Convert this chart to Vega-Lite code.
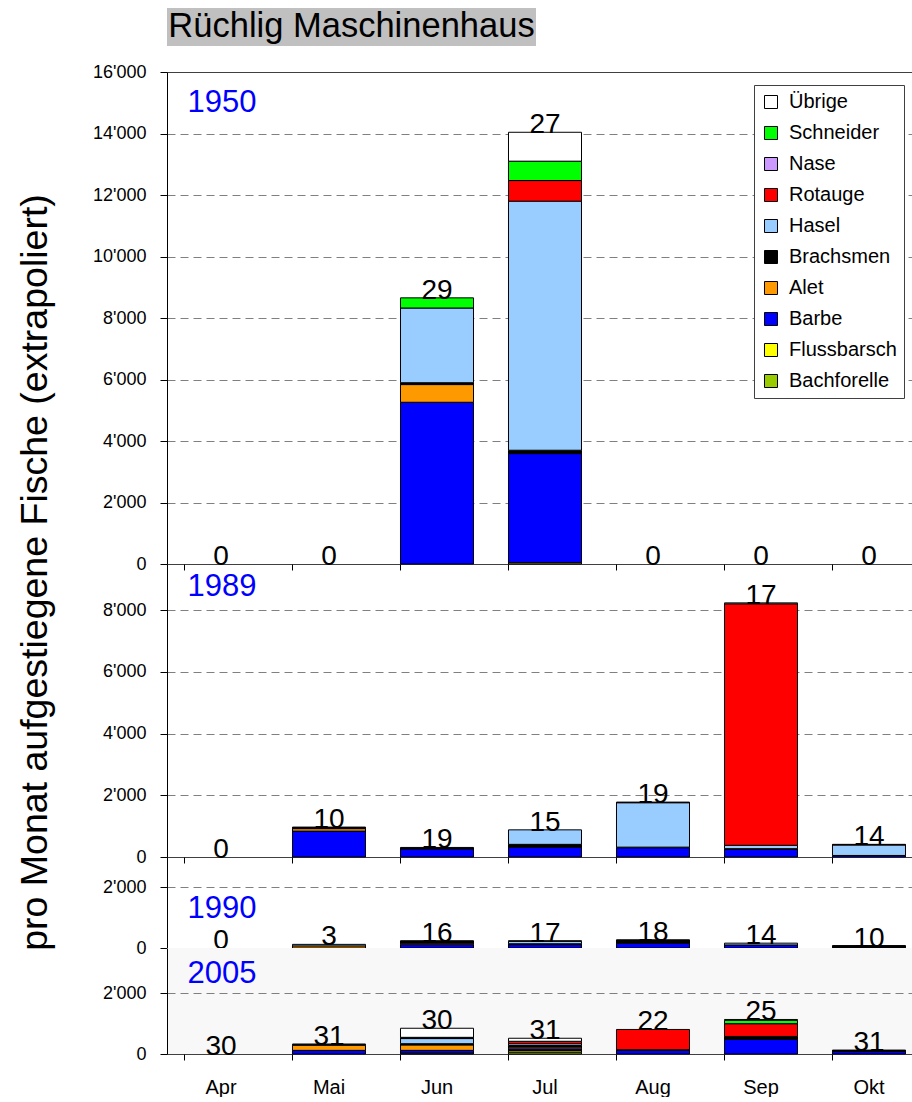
{
  "$schema": "https://vega.github.io/schema/vega-lite/v6.json",
  "padding": {"left": 15, "top": 8, "right": 0, "bottom": 0},
  "background": "white",
  "config": {
    "font": "Liberation Sans",
    "view": {"stroke": null},
    "locale": {"number": {"decimal": ".", "thousands": "'", "grouping": [3], "currency": ["", ""]}},
    "axis": {"titleFontWeight": "normal", "labelColor": "black", "titleColor": "black"}
  },
  "datasets": {
    "titel": [{"titel": "Rüchlig Maschinenhaus"}],
    "jahre": [{"jahr": "1950"}, {"jahr": "1989"}, {"jahr": "1990"}, {"jahr": "2005"}],
    "monate": [
      {"jahr": "1950", "monat": "Apr", "tage": 0, "Barbe": 0},
      {"jahr": "1950", "monat": "Mai", "tage": 0, "Barbe": 0},
      {"jahr": "1950", "monat": "Jun", "tage": 29, "Barbe": 5260, "Alet": 575, "Brachsmen": 60, "Hasel": 2430, "Schneider": 330},
      {"jahr": "1950", "monat": "Jul", "tage": 27, "Flussbarsch": 40, "Barbe": 3550, "Brachsmen": 110, "Hasel": 8100, "Rotauge": 670, "Schneider": 630, "Übrige": 940},
      {"jahr": "1950", "monat": "Aug", "tage": 0, "Barbe": 0},
      {"jahr": "1950", "monat": "Sep", "tage": 0, "Barbe": 0},
      {"jahr": "1950", "monat": "Okt", "tage": 0, "Barbe": 0},
      {"jahr": "1989", "monat": "Apr", "tage": 0, "Barbe": 0},
      {"jahr": "1989", "monat": "Mai", "tage": 10, "Barbe": 840, "Alet": 80, "Brachsmen": 50},
      {"jahr": "1989", "monat": "Jun", "tage": 19, "Barbe": 260, "Brachsmen": 50},
      {"jahr": "1989", "monat": "Jul", "tage": 15, "Barbe": 320, "Brachsmen": 90, "Hasel": 470},
      {"jahr": "1989", "monat": "Aug", "tage": 19, "Barbe": 300, "Brachsmen": 20, "Hasel": 1440, "Rotauge": 20},
      {"jahr": "1989", "monat": "Sep", "tage": 17, "Barbe": 250, "Brachsmen": 20, "Hasel": 110, "Rotauge": 7830, "Übrige": 30},
      {"jahr": "1989", "monat": "Okt", "tage": 14, "Barbe": 50, "Hasel": 340, "Rotauge": 20},
      {"jahr": "1990", "monat": "Apr", "tage": 0, "Barbe": 0},
      {"jahr": "1990", "monat": "Mai", "tage": 3, "Alet": 70, "Hasel": 50},
      {"jahr": "1990", "monat": "Jun", "tage": 16, "Barbe": 110, "Alet": 50, "Brachsmen": 80},
      {"jahr": "1990", "monat": "Jul", "tage": 17, "Barbe": 110, "Brachsmen": 30, "Hasel": 80, "Übrige": 20},
      {"jahr": "1990", "monat": "Aug", "tage": 18, "Barbe": 160, "Brachsmen": 110},
      {"jahr": "1990", "monat": "Sep", "tage": 14, "Barbe": 100, "Hasel": 60},
      {"jahr": "1990", "monat": "Okt", "tage": 10, "Barbe": 20, "Brachsmen": 60},
      {"jahr": "2005", "monat": "Apr", "tage": 30, "Barbe": 0},
      {"jahr": "2005", "monat": "Mai", "tage": 31, "Barbe": 120, "Alet": 170, "Hasel": 20, "Übrige": 20},
      {"jahr": "2005", "monat": "Jun", "tage": 30, "Bachforelle": 30, "Barbe": 90, "Alet": 180, "Brachsmen": 40, "Hasel": 170, "Rotauge": 20, "Schneider": 20, "Übrige": 300},
      {"jahr": "2005", "monat": "Jul", "tage": 31, "Bachforelle": 60, "Flussbarsch": 50, "Barbe": 60, "Alet": 60, "Brachsmen": 50, "Hasel": 60, "Rotauge": 80, "Übrige": 100},
      {"jahr": "2005", "monat": "Aug", "tage": 22, "Barbe": 120, "Brachsmen": 20, "Rotauge": 670},
      {"jahr": "2005", "monat": "Sep", "tage": 25, "Barbe": 480, "Brachsmen": 100, "Rotauge": 420, "Schneider": 110, "Übrige": 30},
      {"jahr": "2005", "monat": "Okt", "tage": 31, "Barbe": 80, "Brachsmen": 50}
    ]
  },
  "spacing": 26,
  "bounds": "flush",
  "vconcat": [
    {
      "width": 369,
      "height": 38,
      "view": {"fill": "#c0c0c0", "stroke": null},
      "data": {"name": "titel"},
      "mark": {"type": "text", "fontSize": 34.5, "color": "black", "baseline": "middle", "align": "center"},
      "encoding": {"text": {"field": "titel", "type": "nominal"}}
    },
    {
      "spacing": 0,
      "bounds": "flush",
      "resolve": {"scale": {"x": "independent", "y": "independent", "color": "independent"}, "legend": {"color": "independent"}},
      "vconcat": [
        {
          "width": 745,
          "height": 492,
          "data": {"name": "monate"},
          "layer": [
            {
              "transform": [
                {"filter": "datum.jahr === '1950'"},
                {"fold": ["Bachforelle", "Flussbarsch", "Barbe", "Alet", "Brachsmen", "Hasel", "Rotauge", "Nase", "Schneider", "Übrige"], "as": ["art", "anzahl"]},
                {"filter": "datum.anzahl > 0"},
                {"calculate": "indexof(['Bachforelle','Flussbarsch','Barbe','Alet','Brachsmen','Hasel','Rotauge','Nase','Schneider','Übrige'], datum.art)", "as": "rang"}
              ],
              "mark": {"type": "bar", "stroke": "black", "strokeWidth": 1},
              "encoding": {
                "x": {"field": "monat", "type": "nominal", "sort": ["Apr", "Mai", "Jun", "Jul", "Aug", "Sep", "Okt"],
                  "scale": {"domain": ["Apr", "Mai", "Jun", "Jul", "Aug", "Sep", "Okt"], "range": [0, 756], "paddingInner": 0.324, "paddingOuter": 0.162},
                  "axis": {"title": null, "labels": false, "bandPosition": 0, "domain": false, "ticks": true, "tickSize": 6, "tickColor": "black", "grid": false}},
                "y": {"field": "anzahl", "type": "quantitative", "stack": "zero",
                  "scale": {"domain": [0, 16000], "nice": false},
                  "axis": {"values": [0, 2000, 4000, 6000, 8000, 10000, 12000, 14000, 16000], "format": ",d",
                    "title": "pro Monat aufgestiegene Fische (extrapoliert)", "titleFontSize": 37.5, "titleAngle": 270,
                    "titleX": -121, "titleY": 500, "titleAlign": "center", "titleBaseline": "alphabetic",
                    "domainColor": "black", "tickColor": "black", "tickSize": 7, "labelFontSize": 18, "labelPadding": 14,
                    "grid": true,
                    "gridColor": {"condition": {"test": "datum.value === 0 || datum.value === 16000", "value": "black"}, "value": "#808080"},
                    "gridDash": {"condition": {"test": "datum.value === 0 || datum.value === 16000", "value": [1, 0]}, "value": [8, 5]}}},
                "color": {"field": "art", "type": "nominal",
                  "scale": {"domain": ["Übrige", "Schneider", "Nase", "Rotauge", "Hasel", "Brachsmen", "Alet", "Barbe", "Flussbarsch", "Bachforelle"],
                    "range": ["#ffffff", "#00ff00", "#cc99ff", "#ff0000", "#99ccff", "#000000", "#ff9900", "#0000ff", "#ffff00", "#99cc00"]},
                  "legend": {"title": null, "orient": "none", "legendX": 587, "legendY": 13, "direction": "vertical",
                    "fillColor": "white", "strokeColor": "#404040", "padding": 7, "symbolType": "square", "symbolSize": 169,
                    "symbolStrokeColor": "black", "symbolStrokeWidth": 1, "labelFontSize": 20, "labelColor": "black",
                    "labelOffset": 8, "rowPadding": 11, "labelLimit": 200}},
                "order": {"field": "rang", "type": "quantitative", "sort": "ascending"}
              }
            },
            {
              "transform": [
                {"filter": "datum.jahr === '1950'"},
                {"fold": ["Bachforelle", "Flussbarsch", "Barbe", "Alet", "Brachsmen", "Hasel", "Rotauge", "Nase", "Schneider", "Übrige"], "as": ["art", "anzahl"]},
                {"aggregate": [{"op": "sum", "field": "anzahl", "as": "summe"}, {"op": "max", "field": "tage", "as": "tage"}], "groupby": ["monat"]}
              ],
              "mark": {"type": "text", "fontSize": 28, "baseline": "alphabetic", "dy": 1, "color": "black"},
              "encoding": {
                "x": {"field": "monat", "type": "nominal", "sort": ["Apr", "Mai", "Jun", "Jul", "Aug", "Sep", "Okt"],
                  "scale": {"domain": ["Apr", "Mai", "Jun", "Jul", "Aug", "Sep", "Okt"], "range": [0, 756], "paddingInner": 0.324, "paddingOuter": 0.162}},
                "y": {"field": "summe", "type": "quantitative", "scale": {"domain": [0, 16000], "nice": false}},
                "text": {"field": "tage", "type": "quantitative"}
              }
            },
            {
              "data": {"name": "jahre"},
              "transform": [{"filter": "datum.jahr === '1950'"}],
              "mark": {"type": "text", "fontSize": 31, "color": "#0000ff", "align": "left", "baseline": "middle", "dx": 3},
              "encoding": {
                "x": {"datum": "Apr", "type": "nominal", "bandPosition": 0,
                  "scale": {"domain": ["Apr", "Mai", "Jun", "Jul", "Aug", "Sep", "Okt"], "range": [0, 756], "paddingInner": 0.324, "paddingOuter": 0.162}},
                "y": {"datum": 15000, "type": "quantitative", "scale": {"domain": [0, 16000], "nice": false}},
                "text": {"field": "jahr", "type": "nominal"}
              }
            }
          ]
        },
        {
          "width": 745,
          "height": 293,
          "data": {"name": "monate"},
          "layer": [
            {
              "transform": [
                {"filter": "datum.jahr === '1989'"},
                {"fold": ["Bachforelle", "Flussbarsch", "Barbe", "Alet", "Brachsmen", "Hasel", "Rotauge", "Nase", "Schneider", "Übrige"], "as": ["art", "anzahl"]},
                {"filter": "datum.anzahl > 0"},
                {"calculate": "indexof(['Bachforelle','Flussbarsch','Barbe','Alet','Brachsmen','Hasel','Rotauge','Nase','Schneider','Übrige'], datum.art)", "as": "rang"}
              ],
              "mark": {"type": "bar", "stroke": "black", "strokeWidth": 1},
              "encoding": {
                "x": {"field": "monat", "type": "nominal", "sort": ["Apr", "Mai", "Jun", "Jul", "Aug", "Sep", "Okt"],
                  "scale": {"domain": ["Apr", "Mai", "Jun", "Jul", "Aug", "Sep", "Okt"], "range": [0, 756], "paddingInner": 0.324, "paddingOuter": 0.162},
                  "axis": {"title": null, "labels": false, "bandPosition": 0, "domain": false, "ticks": true, "tickSize": 6, "tickColor": "black", "grid": false}},
                "y": {"field": "anzahl", "type": "quantitative", "stack": "zero",
                  "scale": {"domain": [0, 9500], "nice": false},
                  "axis": {"values": [0, 2000, 4000, 6000, 8000], "format": ",d", "title": null,
                    "domainColor": "black", "tickColor": "black", "tickSize": 7, "labelFontSize": 18, "labelPadding": 14,
                    "grid": true,
                    "gridColor": {"condition": {"test": "datum.value === 0", "value": "black"}, "value": "#808080"},
                    "gridDash": {"condition": {"test": "datum.value === 0", "value": [1, 0]}, "value": [8, 5]}}},
                "color": {"field": "art", "type": "nominal",
                  "scale": {"domain": ["Übrige", "Schneider", "Nase", "Rotauge", "Hasel", "Brachsmen", "Alet", "Barbe", "Flussbarsch", "Bachforelle"],
                    "range": ["#ffffff", "#00ff00", "#cc99ff", "#ff0000", "#99ccff", "#000000", "#ff9900", "#0000ff", "#ffff00", "#99cc00"]},
                  "legend": null},
                "order": {"field": "rang", "type": "quantitative", "sort": "ascending"}
              }
            },
            {
              "transform": [
                {"filter": "datum.jahr === '1989'"},
                {"fold": ["Bachforelle", "Flussbarsch", "Barbe", "Alet", "Brachsmen", "Hasel", "Rotauge", "Nase", "Schneider", "Übrige"], "as": ["art", "anzahl"]},
                {"aggregate": [{"op": "sum", "field": "anzahl", "as": "summe"}, {"op": "max", "field": "tage", "as": "tage"}], "groupby": ["monat"]}
              ],
              "mark": {"type": "text", "fontSize": 28, "baseline": "alphabetic", "dy": 1, "color": "black"},
              "encoding": {
                "x": {"field": "monat", "type": "nominal", "sort": ["Apr", "Mai", "Jun", "Jul", "Aug", "Sep", "Okt"],
                  "scale": {"domain": ["Apr", "Mai", "Jun", "Jul", "Aug", "Sep", "Okt"], "range": [0, 756], "paddingInner": 0.324, "paddingOuter": 0.162}},
                "y": {"field": "summe", "type": "quantitative", "scale": {"domain": [0, 9500], "nice": false}},
                "text": {"field": "tage", "type": "quantitative"}
              }
            },
            {
              "data": {"name": "jahre"},
              "transform": [{"filter": "datum.jahr === '1989'"}],
              "mark": {"type": "text", "fontSize": 31, "color": "#0000ff", "align": "left", "baseline": "middle", "dx": 3},
              "encoding": {
                "x": {"datum": "Apr", "type": "nominal", "bandPosition": 0,
                  "scale": {"domain": ["Apr", "Mai", "Jun", "Jul", "Aug", "Sep", "Okt"], "range": [0, 756], "paddingInner": 0.324, "paddingOuter": 0.162}},
                "y": {"datum": 8750, "type": "quantitative", "scale": {"domain": [0, 9500], "nice": false}},
                "text": {"field": "jahr", "type": "nominal"}
              }
            }
          ]
        },
        {
          "width": 745,
          "height": 91,
          "data": {"name": "monate"},
          "layer": [
            {
              "transform": [
                {"filter": "datum.jahr === '1990'"},
                {"fold": ["Bachforelle", "Flussbarsch", "Barbe", "Alet", "Brachsmen", "Hasel", "Rotauge", "Nase", "Schneider", "Übrige"], "as": ["art", "anzahl"]},
                {"filter": "datum.anzahl > 0"},
                {"calculate": "indexof(['Bachforelle','Flussbarsch','Barbe','Alet','Brachsmen','Hasel','Rotauge','Nase','Schneider','Übrige'], datum.art)", "as": "rang"}
              ],
              "mark": {"type": "bar", "stroke": "black", "strokeWidth": 1},
              "encoding": {
                "x": {"field": "monat", "type": "nominal", "sort": ["Apr", "Mai", "Jun", "Jul", "Aug", "Sep", "Okt"],
                  "scale": {"domain": ["Apr", "Mai", "Jun", "Jul", "Aug", "Sep", "Okt"], "range": [0, 756], "paddingInner": 0.324, "paddingOuter": 0.162},
                  "axis": {"title": null, "labels": false, "bandPosition": 0, "domain": false, "ticks": true, "tickSize": 6, "tickColor": "black", "grid": false}},
                "y": {"field": "anzahl", "type": "quantitative", "stack": "zero",
                  "scale": {"domain": [0, 3000], "nice": false},
                  "axis": {"values": [0, 2000], "format": ",d", "title": null,
                    "domainColor": "black", "tickColor": "black", "tickSize": 7, "labelFontSize": 18, "labelPadding": 14,
                    "grid": true,
                    "gridColor": {"condition": {"test": "datum.value === 0", "value": "black"}, "value": "#808080"},
                    "gridDash": {"condition": {"test": "datum.value === 0", "value": [1, 0]}, "value": [8, 5]}}},
                "color": {"field": "art", "type": "nominal",
                  "scale": {"domain": ["Übrige", "Schneider", "Nase", "Rotauge", "Hasel", "Brachsmen", "Alet", "Barbe", "Flussbarsch", "Bachforelle"],
                    "range": ["#ffffff", "#00ff00", "#cc99ff", "#ff0000", "#99ccff", "#000000", "#ff9900", "#0000ff", "#ffff00", "#99cc00"]},
                  "legend": null},
                "order": {"field": "rang", "type": "quantitative", "sort": "ascending"}
              }
            },
            {
              "transform": [
                {"filter": "datum.jahr === '1990'"},
                {"fold": ["Bachforelle", "Flussbarsch", "Barbe", "Alet", "Brachsmen", "Hasel", "Rotauge", "Nase", "Schneider", "Übrige"], "as": ["art", "anzahl"]},
                {"aggregate": [{"op": "sum", "field": "anzahl", "as": "summe"}, {"op": "max", "field": "tage", "as": "tage"}], "groupby": ["monat"]}
              ],
              "mark": {"type": "text", "fontSize": 28, "baseline": "alphabetic", "dy": 1, "color": "black"},
              "encoding": {
                "x": {"field": "monat", "type": "nominal", "sort": ["Apr", "Mai", "Jun", "Jul", "Aug", "Sep", "Okt"],
                  "scale": {"domain": ["Apr", "Mai", "Jun", "Jul", "Aug", "Sep", "Okt"], "range": [0, 756], "paddingInner": 0.324, "paddingOuter": 0.162}},
                "y": {"field": "summe", "type": "quantitative", "scale": {"domain": [0, 3000], "nice": false}},
                "text": {"field": "tage", "type": "quantitative"}
              }
            },
            {
              "data": {"name": "jahre"},
              "transform": [{"filter": "datum.jahr === '1990'"}],
              "mark": {"type": "text", "fontSize": 31, "color": "#0000ff", "align": "left", "baseline": "middle", "dx": 3},
              "encoding": {
                "x": {"datum": "Apr", "type": "nominal", "bandPosition": 0,
                  "scale": {"domain": ["Apr", "Mai", "Jun", "Jul", "Aug", "Sep", "Okt"], "range": [0, 756], "paddingInner": 0.324, "paddingOuter": 0.162}},
                "y": {"datum": 1300, "type": "quantitative", "scale": {"domain": [0, 3000], "nice": false}},
                "text": {"field": "jahr", "type": "nominal"}
              }
            }
          ]
        },
        {
          "width": 745,
          "height": 106,
          "view": {"fill": "#f8f8f8", "stroke": null},
          "data": {"name": "monate"},
          "layer": [
            {
              "transform": [
                {"filter": "datum.jahr === '2005'"},
                {"fold": ["Bachforelle", "Flussbarsch", "Barbe", "Alet", "Brachsmen", "Hasel", "Rotauge", "Nase", "Schneider", "Übrige"], "as": ["art", "anzahl"]},
                {"filter": "datum.anzahl > 0"},
                {"calculate": "indexof(['Bachforelle','Flussbarsch','Barbe','Alet','Brachsmen','Hasel','Rotauge','Nase','Schneider','Übrige'], datum.art)", "as": "rang"}
              ],
              "mark": {"type": "bar", "stroke": "black", "strokeWidth": 1},
              "encoding": {
                "x": {"field": "monat", "type": "nominal", "sort": ["Apr", "Mai", "Jun", "Jul", "Aug", "Sep", "Okt"],
                  "scale": {"domain": ["Apr", "Mai", "Jun", "Jul", "Aug", "Sep", "Okt"], "range": [0, 756], "paddingInner": 0.324, "paddingOuter": 0.162},
                  "axis": {"title": null, "labels": true, "bandPosition": 0, "domain": false, "ticks": true, "tickSize": 6, "tickColor": "black", "grid": false,
                    "labelFontSize": 20, "labelPadding": 17, "labelAngle": 0}},
                "y": {"field": "anzahl", "type": "quantitative", "stack": "zero",
                  "scale": {"domain": [0, 3500], "nice": false},
                  "axis": {"values": [0, 2000], "format": ",d", "title": null,
                    "domainColor": "black", "tickColor": "black", "tickSize": 7, "labelFontSize": 18, "labelPadding": 14,
                    "grid": true,
                    "gridColor": {"condition": {"test": "datum.value === 0", "value": "black"}, "value": "#808080"},
                    "gridDash": {"condition": {"test": "datum.value === 0", "value": [1, 0]}, "value": [8, 5]}}},
                "color": {"field": "art", "type": "nominal",
                  "scale": {"domain": ["Übrige", "Schneider", "Nase", "Rotauge", "Hasel", "Brachsmen", "Alet", "Barbe", "Flussbarsch", "Bachforelle"],
                    "range": ["#ffffff", "#00ff00", "#cc99ff", "#ff0000", "#99ccff", "#000000", "#ff9900", "#0000ff", "#ffff00", "#99cc00"]},
                  "legend": null},
                "order": {"field": "rang", "type": "quantitative", "sort": "ascending"}
              }
            },
            {
              "transform": [
                {"filter": "datum.jahr === '2005'"},
                {"fold": ["Bachforelle", "Flussbarsch", "Barbe", "Alet", "Brachsmen", "Hasel", "Rotauge", "Nase", "Schneider", "Übrige"], "as": ["art", "anzahl"]},
                {"aggregate": [{"op": "sum", "field": "anzahl", "as": "summe"}, {"op": "max", "field": "tage", "as": "tage"}], "groupby": ["monat"]}
              ],
              "mark": {"type": "text", "fontSize": 28, "baseline": "alphabetic", "dy": 1, "color": "black"},
              "encoding": {
                "x": {"field": "monat", "type": "nominal", "sort": ["Apr", "Mai", "Jun", "Jul", "Aug", "Sep", "Okt"],
                  "scale": {"domain": ["Apr", "Mai", "Jun", "Jul", "Aug", "Sep", "Okt"], "range": [0, 756], "paddingInner": 0.324, "paddingOuter": 0.162}},
                "y": {"field": "summe", "type": "quantitative", "scale": {"domain": [0, 3500], "nice": false}},
                "text": {"field": "tage", "type": "quantitative"}
              }
            },
            {
              "data": {"name": "jahre"},
              "transform": [{"filter": "datum.jahr === '2005'"}],
              "mark": {"type": "text", "fontSize": 31, "color": "#0000ff", "align": "left", "baseline": "middle", "dx": 3},
              "encoding": {
                "x": {"datum": "Apr", "type": "nominal", "bandPosition": 0,
                  "scale": {"domain": ["Apr", "Mai", "Jun", "Jul", "Aug", "Sep", "Okt"], "range": [0, 756], "paddingInner": 0.324, "paddingOuter": 0.162}},
                "y": {"datum": 2650, "type": "quantitative", "scale": {"domain": [0, 3500], "nice": false}},
                "text": {"field": "jahr", "type": "nominal"}
              }
            }
          ]
        }
      ]
    }
  ]
}
